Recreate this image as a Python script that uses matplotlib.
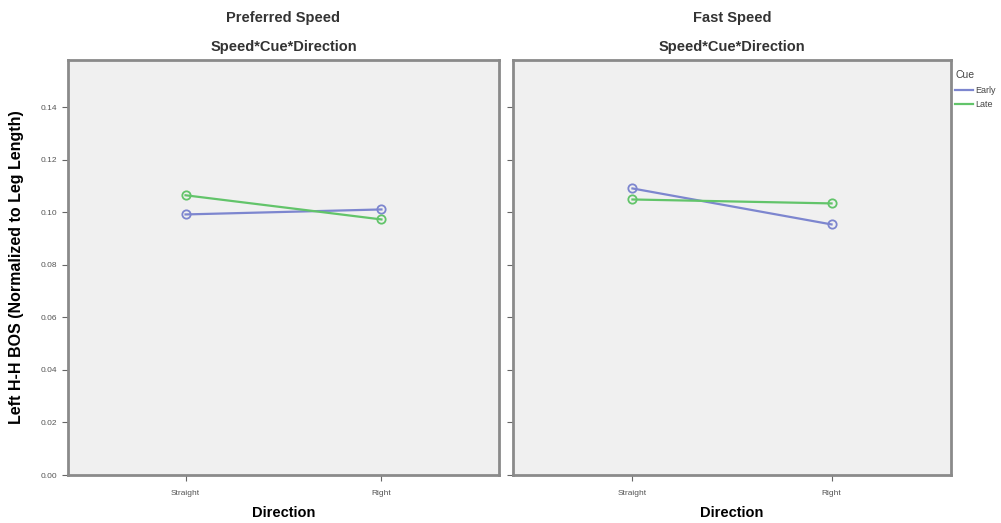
import matplotlib
matplotlib.use("Agg")
import matplotlib.pyplot as plt
from matplotlib.lines import Line2D

plt.rcParams['font.family'] = ['Liberation Sans', 'DejaVu Sans']

directions = ["Straight", "Right"]
cues = ["Early", "Late"]
panel_titles = ["Preferred Speed", "Fast Speed"]
subtitle = "Speed*Cue*Direction"
preferred = {"Early": [0.0992, 0.1011], "Late": [0.1065, 0.0973]}
fast = {"Early": [0.1091, 0.0954], "Late": [0.1049, 0.1034]}
yticks = [0.00, 0.02, 0.04, 0.06, 0.08, 0.10, 0.12, 0.14]
colors = {"Early": "#7d86cf", "Late": "#62c46a"}

W, H = 1001, 523
fig = plt.figure(figsize=(W / 100, H / 100), dpi=100)
fig.patch.set_facecolor("white")

def ax_rect(x0, y0, x1, y1):
    return [x0 / W, 1 - y1 / H, (x1 - x0) / W, (y1 - y0) / H]

axes = [fig.add_axes(ax_rect(68, 60, 499, 475)), fig.add_axes(ax_rect(513, 60, 951, 475))]
data = [preferred, fast]

for i, (ax, d) in enumerate(zip(axes, data)):
    ax.set_facecolor("#f0f0f0")
    xs = list(range(len(directions)))
    for c in cues:
        ax.plot(xs, d[c], color=colors[c], lw=1.6, marker="o", ms=6,
                mfc="none", mec=colors[c], mew=1.3)
    ax.set_xlim(-0.6, 1.6)
    ax.set_ylim(0, 0.158)
    ax.set_xticks(xs)
    ax.set_xticklabels(directions, fontsize=6, color="#555555")
    ax.set_yticks(yticks)
    if i == 0:
        ax.set_yticklabels([f"{v:.2f}" for v in yticks], fontsize=6, color="#555555")
        ax.set_ylabel("Left H-H BOS (Normalized to Leg Length)", fontsize=11.5,
                      fontweight="bold", labelpad=12)
    else:
        ax.set_yticklabels([])
    ax.tick_params(axis="y", length=4, width=0.8, color="#666666", pad=4)
    ax.tick_params(axis="x", length=4, width=0.8, color="#666666", pad=7)
    for s in ax.spines.values():
        s.set_color("#8a8a8a")
        s.set_linewidth(2)
    ax.set_xlabel("Direction", fontsize=10.5, fontweight="bold", labelpad=6)
    bb = ax.get_position()
    cx = (bb.x0 + bb.x1) / 2
    fig.text(cx, 1 - 18 / H, panel_titles[i], ha="center", va="center",
             fontsize=10.5, fontweight="bold", color="#333333")
    fig.text(cx, 1 - 47 / H, subtitle, ha="center", va="center",
             fontsize=10.5, fontweight="bold", color="#333333")

# legend
handles = [Line2D([0], [0], color=colors[c], lw=1.6) for c in cues]
leg = fig.legend(handles, cues, loc="upper left", bbox_to_anchor=(949 / W, 1 - 64 / H),
                 title="Cue", fontsize=6.5, title_fontsize=7.5, frameon=False,
                 handlelength=2.0, handletextpad=0.2, labelspacing=0.6,
                 borderpad=0.2)
leg._legend_box.align = "left"
leg.get_title().set_color("#444444")
for t in leg.get_texts():
    t.set_color("#444444")

fig.savefig("out.png", dpi=100)
